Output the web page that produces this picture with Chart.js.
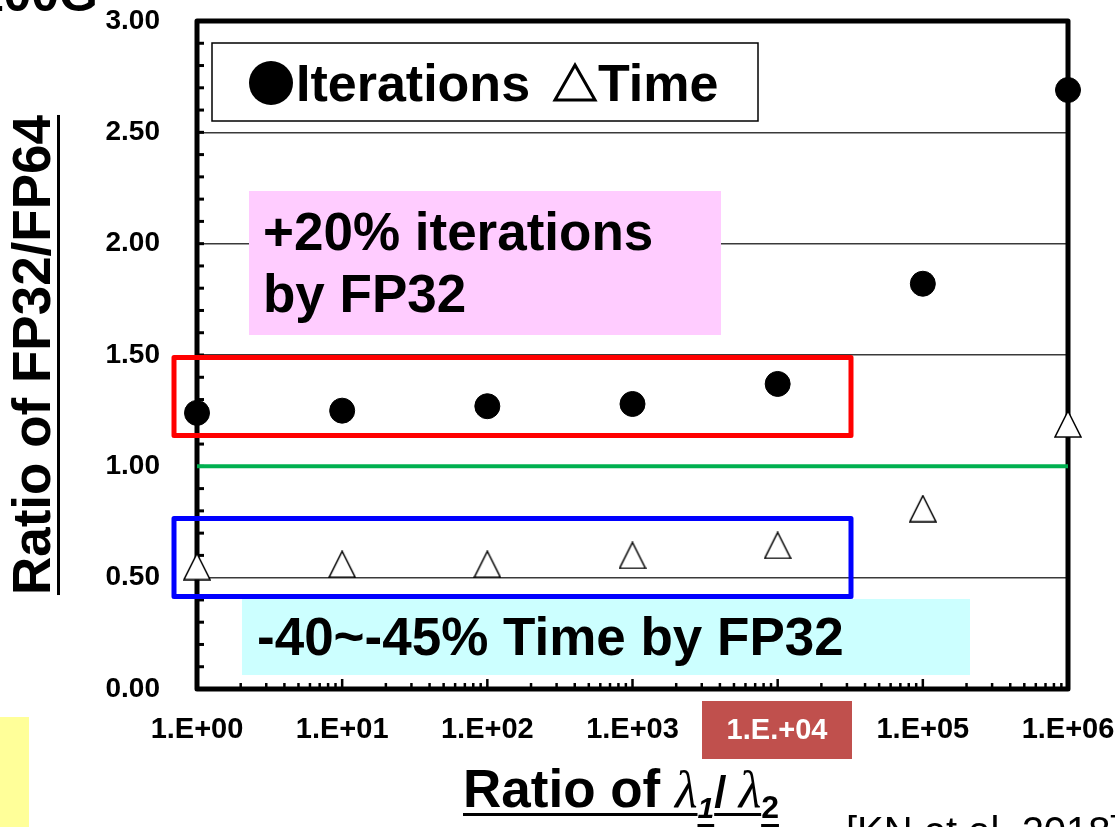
<!DOCTYPE html>
<html>
<head>
<meta charset="utf-8">
<script src="https://cdn.jsdelivr.net/npm/chart.js@4.4.1/dist/chart.umd.min.js"></script>
<style>
  html, body { margin: 0; padding: 0; background: #fff; }
  #wrap { width: 1115px; height: 827px; position: relative; }
</style>
</head>
<body>
<div id="wrap"><canvas id="chart"></canvas></div>
<script>
// data
const ratioX = [1, 10, 100, 1000, 10000, 100000, 1000000];
const xTickLabels = ['1.E+00', '1.E+01', '1.E+02', '1.E+03', '1.E+04', '1.E+05', '1.E+06'];
const iterations = [1.24, 1.25, 1.27, 1.28, 1.37, 1.82, 2.69];
const time = [0.55, 0.56, 0.56, 0.60, 0.645, 0.81, 1.19];
const baselineX = [1, 1000000];
const baselineY = [1.0, 1.0];

const FONT = '"Liberation Sans", Arial, sans-serif';
const SERIF = '"Liberation Serif", "Times New Roman", serif';

// white triangle marker, centered on its bounding box
function makeTriangle(size) {
    const c = document.createElement('canvas');
    c.width = size; c.height = size;
    const g = c.getContext('2d');
    g.beginPath();
    g.moveTo(size / 2, 1);
    g.lineTo(size - 1, size - 1);
    g.lineTo(1, size - 1);
    g.closePath();
    g.fillStyle = '#fff';
    g.fill();
    g.lineWidth = 1.5;
    g.strokeStyle = '#000';
    g.stroke();
    return c;
}
const triangleMarker = makeTriangle(28);

const decor = {
    id: 'decor',
    beforeDatasetsDraw(chart) {
        const ctx = chart.ctx;
        const a = chart.chartArea;
        const xs = chart.scales.x, ys = chart.scales.y;
        ctx.save();
        // pink and cyan notes
        ctx.fillStyle = '#FFCCFF';
        ctx.fillRect(249, 191, 472, 144);
        ctx.fillStyle = '#CCFFFF';
        ctx.fillRect(242, 599, 728, 76);
        ctx.fillStyle = '#000';
        ctx.font = 'bold 53px ' + FONT;
        ctx.textBaseline = 'alphabetic';
        ctx.fillText('+20% iterations', 263, 250);
        ctx.fillText('by FP32', 263, 312);
        ctx.fillText('-40~-45% Time by FP32', 257, 655);

        // legend box
        ctx.fillStyle = '#fff';
        ctx.fillRect(212, 43, 546, 78);
        ctx.lineWidth = 1.5;
        ctx.strokeStyle = '#000';
        ctx.strokeRect(212, 43, 546, 78);
        ctx.fillStyle = '#000';
        ctx.beginPath();
        ctx.arc(271, 83, 22, 0, Math.PI * 2);
        ctx.fill();
        ctx.font = 'bold 52px ' + FONT;
        ctx.fillText('Iterations', 296, 101);
        ctx.beginPath();
        ctx.moveTo(575, 65);
        ctx.lineTo(595, 100);
        ctx.lineTo(555, 100);
        ctx.closePath();
        ctx.lineWidth = 3;
        ctx.stroke();
        ctx.fillText('Time', 598, 101);

        // axis frame
        ctx.lineWidth = 5;
        ctx.strokeStyle = '#000';
        ctx.lineJoin = 'round';
        ctx.strokeRect(a.left, a.top, a.right - a.left, a.bottom - a.top);

        // y minor ticks every 0.1, pointing inward
        ctx.lineWidth = 3;
        for (let i = 1; i < 30; i++) {
            const py = ys.getPixelForValue(i / 10);
            ctx.beginPath();
            ctx.moveTo(a.left, py);
            ctx.lineTo(a.left + 7, py);
            ctx.stroke();
        }
        // x log ticks, pointing inward
        ctx.lineWidth = 2.5;
        for (let d = 0; d < 6; d++) {
            for (let k = 2; k <= 10; k++) {
                const px = xs.getPixelForValue(k * Math.pow(10, d));
                ctx.beginPath();
                ctx.moveTo(px, a.bottom);
                ctx.lineTo(px, a.bottom - (k === 10 ? 10 : 6));
                ctx.stroke();
            }
        }

        // highlight rectangles
        ctx.lineWidth = 5;
        ctx.strokeStyle = '#FF0000';
        ctx.strokeRect(174, 357.5, 677, 78);
        ctx.strokeStyle = '#0000FF';
        ctx.strokeRect(174, 518.5, 677, 78);
        ctx.restore();
    },
    afterDraw(chart) {
        const ctx = chart.ctx;
        ctx.save();
        // highlighted tick label
        ctx.fillStyle = '#C0504D';
        ctx.fillRect(702, 701, 150, 58);
        ctx.fillStyle = '#fff';
        ctx.font = 'bold 29px ' + FONT;
        ctx.textAlign = 'center';
        ctx.textBaseline = 'middle';
        ctx.fillText('1.E.+04', 777, 731);

        // yellow strip at bottom left
        ctx.fillStyle = '#FFFF99';
        ctx.fillRect(0, 717, 29, 110);

        // cut-off text at top left and bottom right
        ctx.fillStyle = '#000';
        ctx.textAlign = 'right';
        ctx.textBaseline = 'alphabetic';
        ctx.font = 'bold 50px ' + FONT;
        ctx.fillText('100G', 98, 11);
        ctx.textAlign = 'left';
        ctx.font = '40px ' + FONT;
        ctx.fillText('[KN et al. 2018]', 846, 845);

        // y title, underlined
        ctx.save();
        ctx.translate(50, 355);
        ctx.rotate(-Math.PI / 2);
        ctx.font = 'bold 53px ' + FONT;
        ctx.textAlign = 'center';
        ctx.fillText('Ratio of FP32/FP64', 0, 0);
        const tw = ctx.measureText('Ratio of FP32/FP64').width;
        ctx.fillRect(-tw / 2, 7, tw, 3);
        ctx.restore();

        // x title, underlined
        let x = 463;
        const base = 807;
        ctx.font = 'bold 53px ' + FONT;
        ctx.fillText('Ratio of ', x, base);
        x += ctx.measureText('Ratio of ').width;
        ctx.font = 'italic 52px ' + SERIF;
        ctx.fillText('\u03BB', x, base);
        x += ctx.measureText('\u03BB').width;
        ctx.fillRect(463, base + 6, x - 463, 3);
        ctx.font = 'bold italic 30px ' + FONT;
        ctx.fillText('1', x, base + 11);
        let w = ctx.measureText('1').width;
        ctx.fillRect(x, base + 17, w, 3);
        x += w;
        const slashStart = x;
        ctx.font = 'bold 44px ' + FONT;
        ctx.fillText('/ ', x, base);
        x += ctx.measureText('/ ').width;
        ctx.font = 'italic 52px ' + SERIF;
        ctx.fillText('\u03BB', x, base);
        x += ctx.measureText('\u03BB').width;
        ctx.fillRect(slashStart, base + 6, x - slashStart, 3);
        ctx.font = 'bold 32px ' + FONT;
        ctx.fillText('2', x, base + 11);
        w = ctx.measureText('2').width;
        ctx.fillRect(x, base + 17, w, 3);
        ctx.restore();
    }
};

new Chart(document.getElementById('chart'), {
    type: 'scatter',
    data: {
        datasets: [
            {
                type: 'line',
                label: 'FP32 = FP64',
                data: baselineX.map((v, i) => ({ x: v, y: baselineY[i] })),
                borderColor: '#00B050',
                borderWidth: 4,
                pointRadius: 0,
                clip: false,
                order: 3
            },
            {
                label: 'Iterations',
                data: ratioX.map((v, i) => ({ x: v, y: iterations[i] })),
                backgroundColor: '#000',
                borderColor: '#000',
                pointStyle: 'circle',
                pointRadius: 12.5,
                pointHoverRadius: 12.5,
                clip: false,
                order: 2
            },
            {
                label: 'Time',
                data: ratioX.map((v, i) => ({ x: v, y: time[i] })),
                pointStyle: triangleMarker,
                pointRadius: 14,
                clip: false,
                order: 1
            }
        ]
    },
    options: {
        responsive: true,
        maintainAspectRatio: false,
        animation: false,
        events: [],
        layout: { padding: { top: 21, right: 47, left: 0, bottom: 0 } },
        plugins: { legend: { display: false }, tooltip: { enabled: false } },
        scales: {
            x: {
                type: 'logarithmic',
                min: 1,
                max: 1000000,
                afterBuildTicks: scale => { scale.ticks = ratioX.map(v => ({ value: v })); },
                afterFit: scale => {
                    scale.height = 138;
                    scale.paddingLeft = 0;
                    scale.paddingRight = 0;
                },
                grid: { display: false, drawTicks: false },
                border: { display: false },
                ticks: {
                    autoSkip: false,
                    maxRotation: 0,
                    padding: 24,
                    color: '#000',
                    font: { family: FONT, size: 29, weight: 'bold' },
                    callback: (v, i) => xTickLabels[i]
                }
            },
            y: {
                min: 0,
                max: 3,
                afterFit: scale => {
                    scale.width = 197;
                    scale.paddingTop = 0;
                    scale.paddingBottom = 0;
                },
                grid: { color: '#3a3a3a', lineWidth: 1.5, drawTicks: false },
                border: { display: false },
                ticks: {
                    stepSize: 0.5,
                    padding: 37,
                    color: '#000',
                    font: { family: FONT, size: 28, weight: 'bold' },
                    callback: v => v.toFixed(2)
                }
            }
        }
    },
    plugins: [decor]
});
</script>
</body>
</html>
